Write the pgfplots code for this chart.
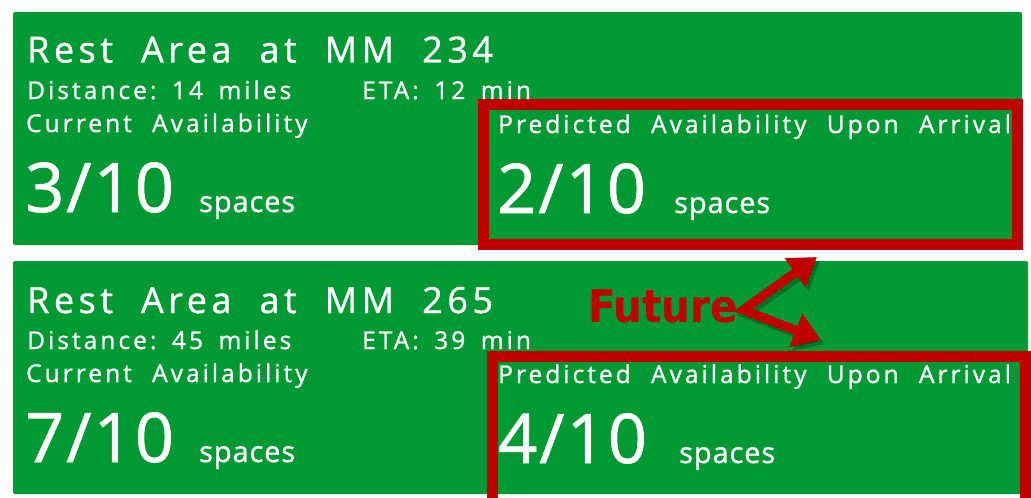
\documentclass[border=0pt]{standalone}
\usepackage{fontspec}
\usepackage{pgfplots}
\pgfplotsset{compat=1.18}
\usetikzlibrary{arrows.meta}
\newfontfamily\titlefont[LetterSpace=12.5, FakeBold=1]{Open Sans}
\newfontfamily\smallfont[LetterSpace=12.4, FakeBold=1]{Open Sans}
\newfontfamily\bigfont[LetterSpace=3, FakeBold=1]{Open Sans}
\newfontfamily\futfont{DejaVu Sans Condensed}
\definecolor{signgreen}{RGB}{0,153,51}
\definecolor{boxred}{RGB}{192,0,0}
\newcommand\T{\titlefont\fontsize{36bp}{36bp}\selectfont}
\newcommand\Sm{\smallfont\fontsize{24.5bp}{24.5bp}\selectfont}
\newcommand\Bg{\bigfont\fontsize{68.5bp}{68.5bp}\selectfont}
\newcommand\Sp{\bigfont\fontsize{29bp}{29bp}\selectfont}
\newcommand\gT{\hspace{28bp}}
\newcommand\gS{\hspace{20.3bp}}
\newcommand\gD{\hspace{15.5bp}}
\begin{document}
\begin{tikzpicture}
\begin{axis}[scale only axis, width=1031bp, height=497bp,
  xmin=0, xmax=1031, ymin=0, ymax=497, y dir=reverse,
  hide axis, clip=true]
% background
\addplot[fill=white, draw=none] coordinates {(0,0) (1031,0) (1031,497) (0,497)} --cycle;
% green panels
\addplot[fill=signgreen, draw=none, rounded corners=2bp] coordinates {(13,12) (1022,12) (1022,245) (13,245)} --cycle;
\addplot[fill=signgreen, draw=none, rounded corners=2bp] coordinates {(13,261) (1028,261) (1028,494) (13,494)} --cycle;
% red boxes
\addplot[draw=boxred, line width=11bp, fill=none] coordinates {(483.5,104.5) (1017.5,104.5) (1017.5,244.5) (483.5,244.5)} --cycle;
\addplot[draw=boxred, line width=11bp, fill=none] coordinates {(492.5,356.5) (1025.5,356.5) (1025.5,505) (492.5,505)} --cycle;
% arrow shadow and arrows
\addplot[draw=black, opacity=0.25, line width=9bp, line join=miter,
  {Triangle[length=27bp,width=34bp]}-{Triangle[length=27bp,width=34bp]}]
  coordinates {(820,261) (746,314) (824,344)};
\addplot[draw=boxred, line width=9bp, line join=miter,
  {Triangle[length=27bp,width=34bp]}-{Triangle[length=27bp,width=34bp]}]
  coordinates {(817,257) (743,310) (821,340)};
% texts
\begin{scope}[every node/.style={text=white, inner sep=0pt, anchor=base west}]
% top panel
\node at (axis cs:27,62.5) {\T Rest\gT Area\gT at\gT MM\gT 234};
\node at (axis cs:27,99) {\Sm Distance:\gD 14\gD miles};
\node at (axis cs:362,99) {\Sm ETA:\gD 12\gD min};
\node at (axis cs:26,132) {\Sm Current\gS Availability};
\node at (axis cs:25,212) {\Bg 3/10};
\node at (axis cs:199,212) {\Sp spaces};
\node at (axis cs:498,133) {\Sm Predicted\gS Availability\gS Upon\gS Arrival};
\node at (axis cs:497,213) {\Bg 2/10};
\node at (axis cs:674,213) {\Sp spaces};
% bottom panel
\node at (axis cs:27,313) {\T Rest\gT Area\gT at\gT MM\gT 265};
\node at (axis cs:27,349) {\Sm Distance:\gD 45\gD miles};
\node at (axis cs:362,349) {\Sm ETA:\gD 39\gD min};
\node at (axis cs:26,382) {\Sm Current\gS Availability};
\node at (axis cs:25,462) {\Bg 7/10};
\node at (axis cs:199,462) {\Sp spaces};
\node at (axis cs:498,383) {\Sm Predicted\gS Availability\gS Upon\gS Arrival};
\node at (axis cs:498,463) {\Bg 4/10};
\node at (axis cs:679,463) {\Sp spaces};
\end{scope}
\node[text=boxred, inner sep=0pt, anchor=base west] at (axis cs:588,322) {\futfont\bfseries\fontsize{45bp}{45bp}\selectfont Future};
\end{axis}
\end{tikzpicture}
\end{document}
